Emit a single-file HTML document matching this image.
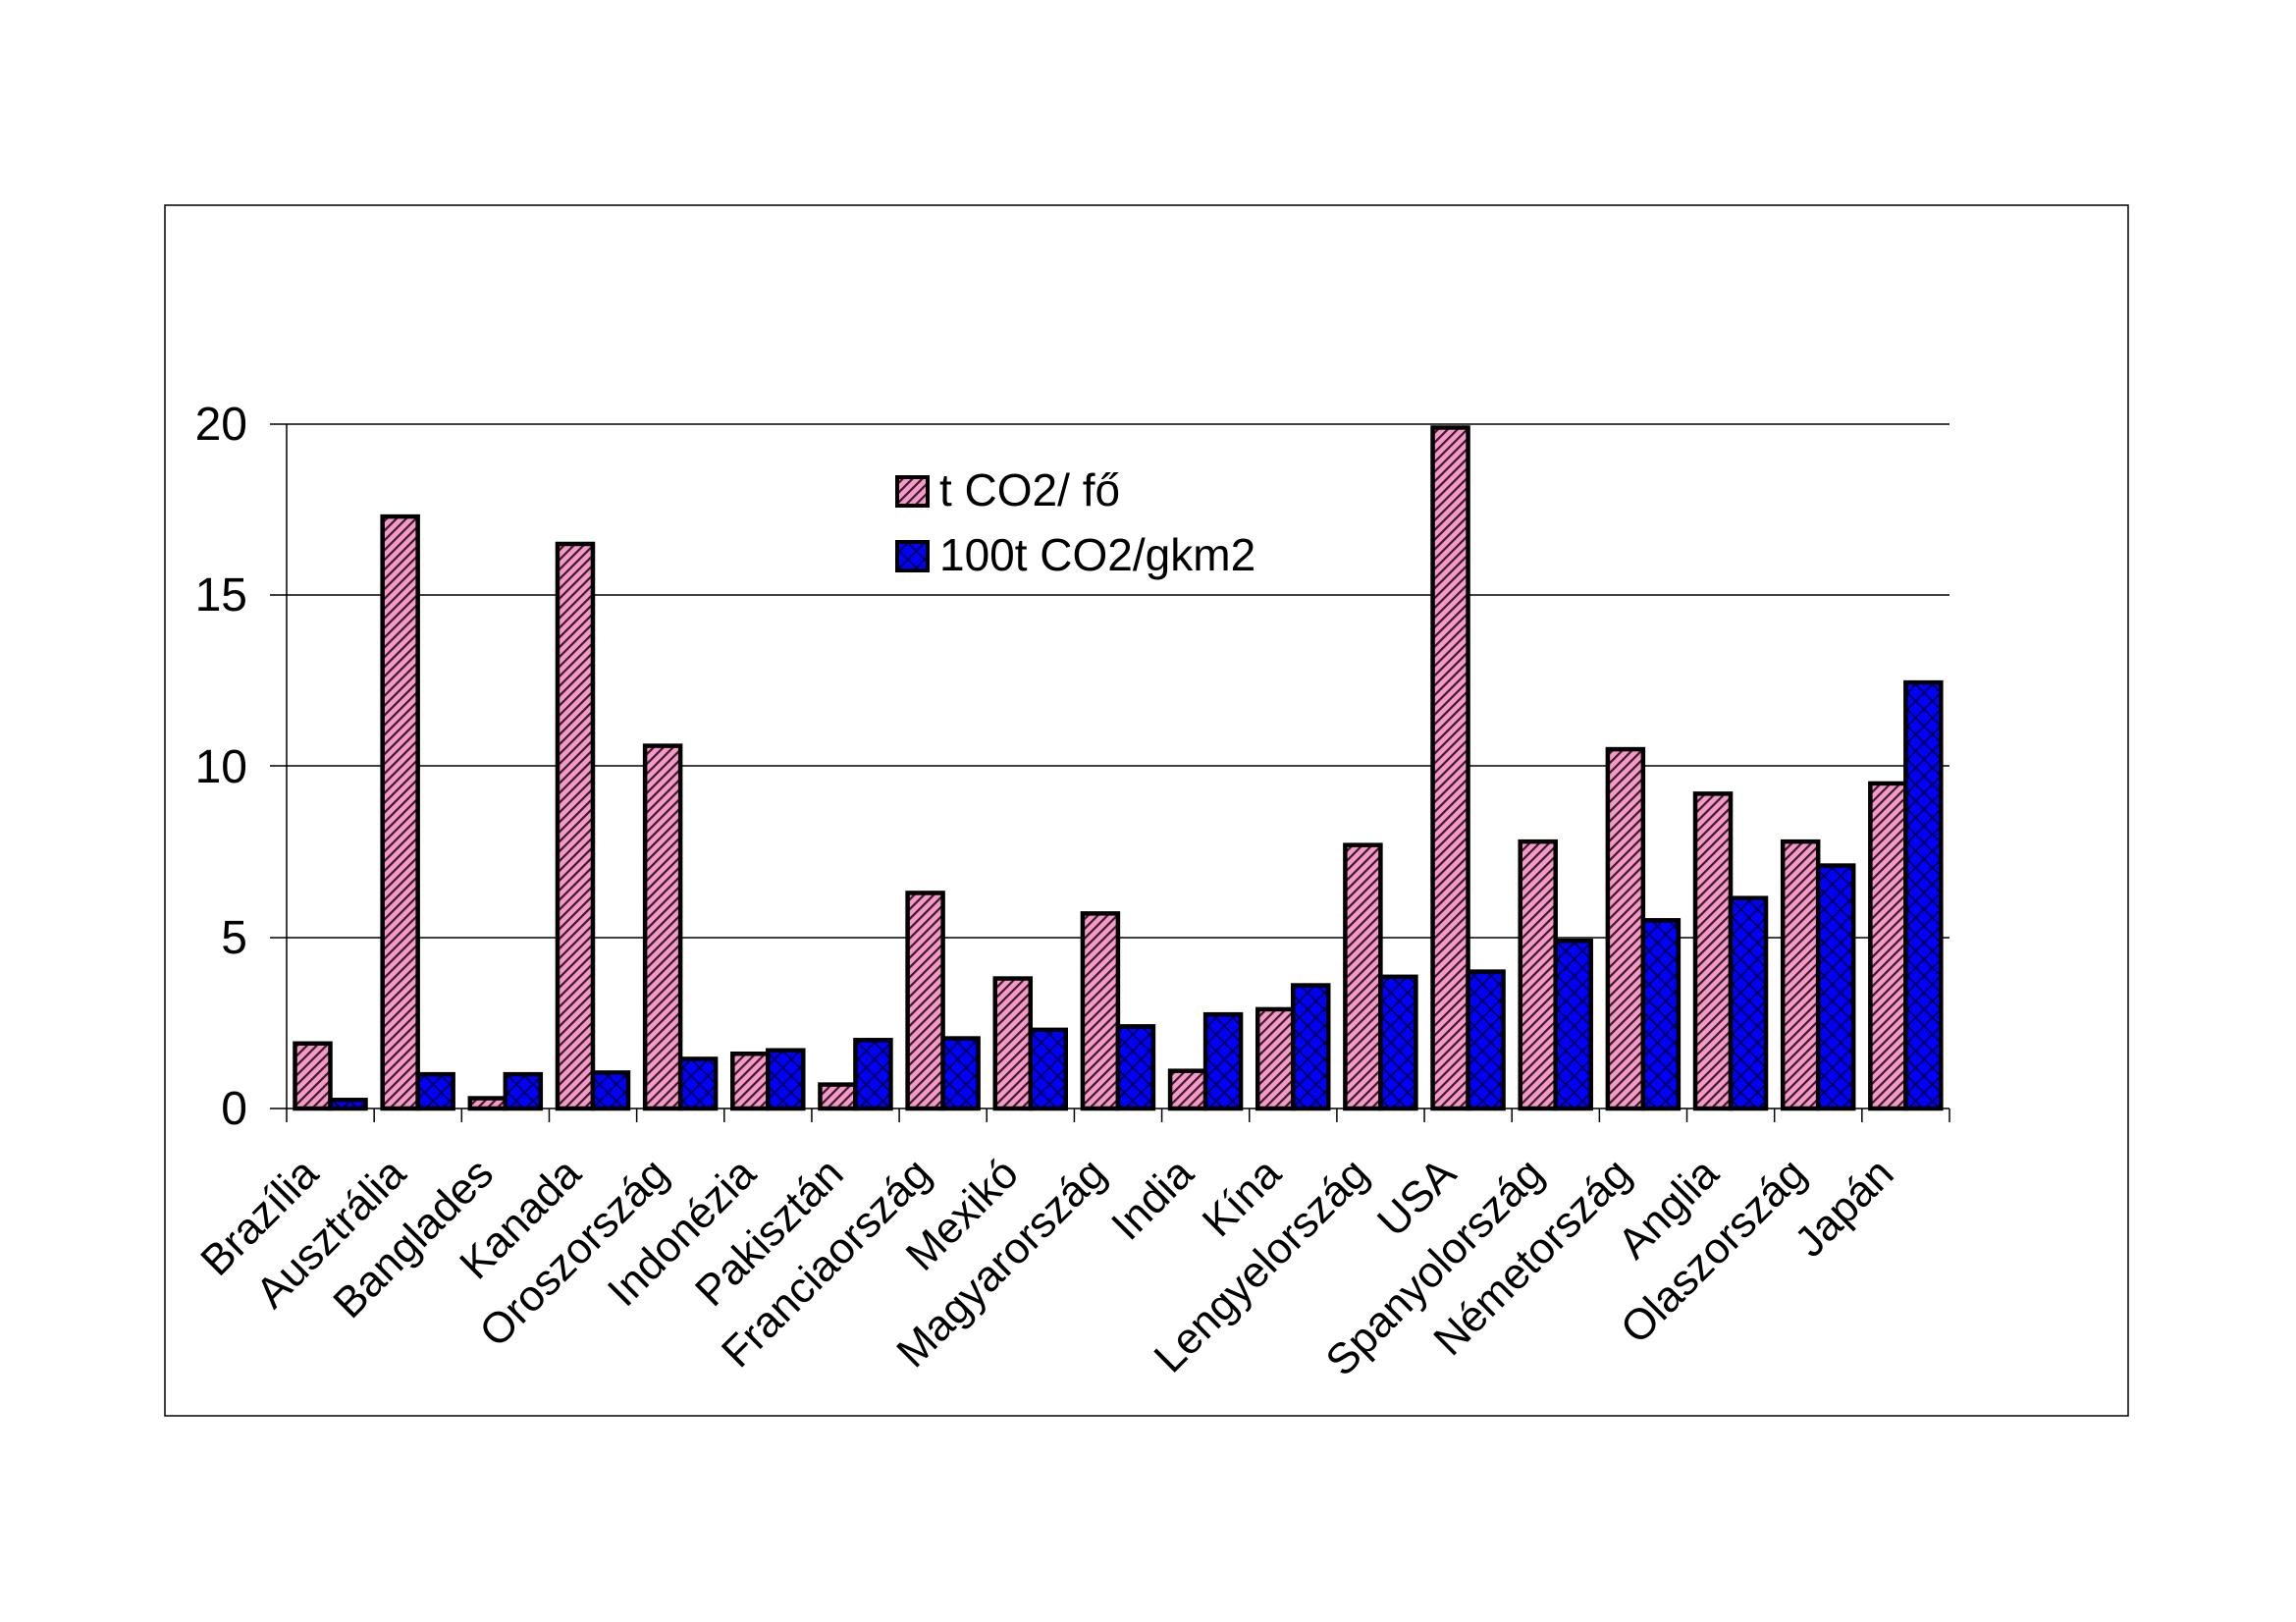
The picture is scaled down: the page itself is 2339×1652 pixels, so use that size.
<!DOCTYPE html>
<html><head><meta charset="utf-8"><style>html,body{margin:0;padding:0;background:#fff}svg{display:block}</style></head>
<body>
<svg xmlns="http://www.w3.org/2000/svg" width="2339" height="1652" viewBox="0 0 2339 1652" font-family="Liberation Sans, Arial, sans-serif">
<defs>
<pattern id="pk" patternUnits="userSpaceOnUse" width="7" height="7" patternTransform="rotate(45)">
<rect width="7" height="7" fill="#f59ac6"/><rect width="2.2" height="7" fill="#3a1a2a"/>
</pattern>
<pattern id="bl" patternUnits="userSpaceOnUse" width="12" height="12" patternTransform="rotate(45)">
<rect width="12" height="12" fill="#0000ff"/><rect width="1.8" height="12" fill="#000050"/><rect width="12" height="1.8" fill="#000050"/>
</pattern>
</defs>
<rect x="168" y="209" width="2000" height="1233" fill="none" stroke="#000" stroke-width="1.5"/>
<g stroke="#000" stroke-width="1.5">
<line x1="275" y1="432" x2="1986" y2="432"/>
<line x1="275" y1="606" x2="1986" y2="606"/>
<line x1="275" y1="780" x2="1986" y2="780"/>
<line x1="275" y1="955" x2="1986" y2="955"/>
<line x1="275" y1="1129" x2="1986" y2="1129"/>
<line x1="292" y1="432" x2="292" y2="1129"/>
</g>
<g font-size="48" text-anchor="end">
<text x="252" y="448">20</text><text x="252" y="622">15</text><text x="252" y="797">10</text><text x="252" y="971">5</text><text x="252" y="1145">0</text>
</g>
<g id="bars" stroke="#000" stroke-width="4.5"></g>
<g id="ticks" stroke="#000" stroke-width="1.5"></g>
<g id="labels" font-size="44" text-anchor="end"></g>
<rect x="914" y="486" width="31" height="29" fill="url(#pk)" stroke="#000" stroke-width="4"/>
<rect x="914" y="552" width="31" height="29" fill="url(#bl)" stroke="#000" stroke-width="4"/>
<text x="957" y="515" font-size="46">t CO2/ fő</text>
<text x="957" y="581" font-size="46">100t CO2/gkm2</text>
<script>
var d=[["Brazília",1.9,0.25],["Ausztrália",17.3,1.0],["Banglades",0.3,1.0],["Kanada",16.5,1.05],["Oroszország",10.6,1.45],["Indonézia",1.6,1.7],["Pakisztán",0.7,2.0],["Franciaország",6.3,2.05],["Mexikó",3.8,2.3],["Magyarország",5.7,2.4],["India",1.1,2.75],["Kína",2.9,3.6],["Lengyelország",7.7,3.85],["USA",19.9,4.0],["Spanyolország",7.8,4.9],["Németország",10.5,5.5],["Anglia",9.2,6.15],["Olaszország",7.8,7.1],["Japán",9.5,12.45]];
var NS="http://www.w3.org/2000/svg",cw=1694/19,y0=1129,u=34.85;
var B=document.getElementById("bars"),T=document.getElementById("ticks"),L=document.getElementById("labels");
function el(t,a,p){var e=document.createElementNS(NS,t);for(var k in a)e.setAttribute(k,a[k]);p.appendChild(e);return e;}
for(var i=0;i<=19;i++){var x=292+i*cw;el("line",{x1:x,y1:1129,x2:x,y2:1143},T);}
d.forEach(function(r,i){var s=292+i*cw,h1=r[1]*u,h2=r[2]*u;
el("rect",{x:s+8.5,y:y0-h1,width:36,height:h1,fill:"url(#pk)"},B);
el("rect",{x:s+44.5,y:y0-h2,width:36,height:h2,fill:"url(#bl)"},B);
var cx=s+cw/2-10,cy=1198;var t=el("text",{x:cx,y:cy,transform:"rotate(-45 "+cx+" "+cy+")"},L);t.textContent=r[0];});
</script>
</svg>
</body></html>
